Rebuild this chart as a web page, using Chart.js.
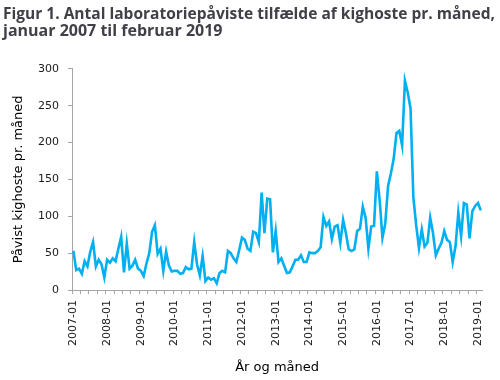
<!DOCTYPE html>
<html><head><meta charset="utf-8">
<script src="https://cdn.jsdelivr.net/npm/chart.js@4/dist/chart.umd.min.js"></script>
<style>html,body{margin:0;padding:0;background:#fff}</style>
</head><body>
<canvas id="c" width="500" height="380"></canvas>
<script>
const titleLines = ["Figur 1. Antal laboratoriepåviste tilfælde af kighoste pr. måned,", "januar 2007 til februar 2019"];
const yAxisTitle = "Påvist kighoste pr. måned";
const xAxisTitle = "År og måned";
const years = [2007,2008,2009,2010,2011,2012,2013,2014,2015,2016,2017,2018,2019];
const monthCodes = ["01","02","03","04","05","06","07","08","09","10","11","12"];
const lastMonthCount2019 = 2;

// Monthly counts, 2007-01 .. 2019-02
const cases2007 = [53,27,29,22,39,32,52,65,32,41,35,17];
const cases2008 = [41,37,43,39,56,72,24,63,29,33,41,29];
const cases2009 = [26,19,36,50,79,88,49,56,26,52,33,25];
const cases2010 = [26,26,22,23,31,28,29,65,35,20,46,12];
const cases2011 = [17,14,16,9,23,26,24,53,50,43,38,54];
const cases2012 = [71,68,56,53,79,77,65,132,77,124,123,51];
const cases2013 = [80,38,43,33,23,24,32,41,41,47,38,38];
const cases2014 = [51,50,50,53,58,99,87,93,69,86,88,64];
const cases2015 = [95,77,55,53,55,80,83,113,98,56,86,87];
const cases2016 = [161,122,71,90,141,158,178,213,216,196,284,268];
const cases2017 = [246,126,88,57,82,59,64,98,77,47,56,64];
const cases2018 = [80,68,65,38,59,105,73,118,116,70,107,114];
const cases2019 = [118,108];

const yTicks = [0,50,100,150,200,250,300];

const monthLabels = [];
years.forEach(y => {
  const n = y === 2019 ? lastMonthCount2019 : 12;
  for (let m = 0; m < n; m++) monthLabels.push(y + "-" + monthCodes[m]);
});
const cases = [].concat(cases2007,cases2008,cases2009,cases2010,cases2011,cases2012,cases2013,cases2014,cases2015,cases2016,cases2017,cases2018,cases2019);

const axisGray = '#a6a6a6';
const ctx = document.getElementById('c').getContext('2d');
new Chart(ctx, {
  type: 'line',
  data: {
    labels: monthLabels,
    datasets: [{
      data: cases,
      borderColor: '#00b0f0',
      borderWidth: 2.6,
      pointRadius: 0,
      tension: 0,
      fill: false
    }]
  },
  options: {
    responsive: false,
    animation: false,
    devicePixelRatio: 1,
    layout: { padding: { left: 3, right: 5, top: 0, bottom: 0 } },
    plugins: {
      legend: { display: false },
      tooltip: { enabled: false },
      title: {
        display: true,
        text: titleLines,
        align: 'start',
        color: '#404048',
        font: { family: 'Open Sans', size: 16, weight: 'bold', lineHeight: 1.12 },
        padding: { top: 5, bottom: 28 }
      }
    },
    scales: {
      x: {
        type: 'category',
        offset: true,
        grid: {
          offset: true,
          drawOnChartArea: false,
          tickLength: 4,
          color: axisGray,
          tickColor: c => (c.index !== undefined && c.index % 3 === 0) ? axisGray : 'rgba(0,0,0,0)'
        },
        border: { color: axisGray, width: 1 },
        ticks: {
          autoSkip: false,
          maxRotation: 90,
          minRotation: 90,
          padding: 6,
          color: '#1a1a1a',
          font: { family: 'DejaVu Sans', size: 11 },
          callback: function(v, i) { return i % 12 === 0 ? monthLabels[i] : ''; }
        },
        title: {
          display: true,
          text: xAxisTitle,
          color: '#000',
          font: { family: 'DejaVu Sans', size: 13 },
          padding: { top: 0, bottom: 5 }
        },
        afterFit: s => { s.height = 90; }
      },
      y: {
        min: 0,
        max: 300,
        afterBuildTicks: s => { s.ticks = yTicks.map(v => ({ value: v })); },
        grid: { drawOnChartArea: false, tickLength: 4, color: axisGray },
        border: { color: axisGray, width: 1 },
        ticks: {
          padding: 9,
          color: '#1a1a1a',
          font: { family: 'DejaVu Sans', size: 11 }
        },
        title: {
          display: true,
          text: yAxisTitle,
          color: '#000',
          font: { family: 'DejaVu Sans', size: 13 },
          padding: { top: 8, bottom: 0 }
        },
        afterFit: s => { s.width = 69; }
      }
    }
  }
});
</script>
</body></html>
